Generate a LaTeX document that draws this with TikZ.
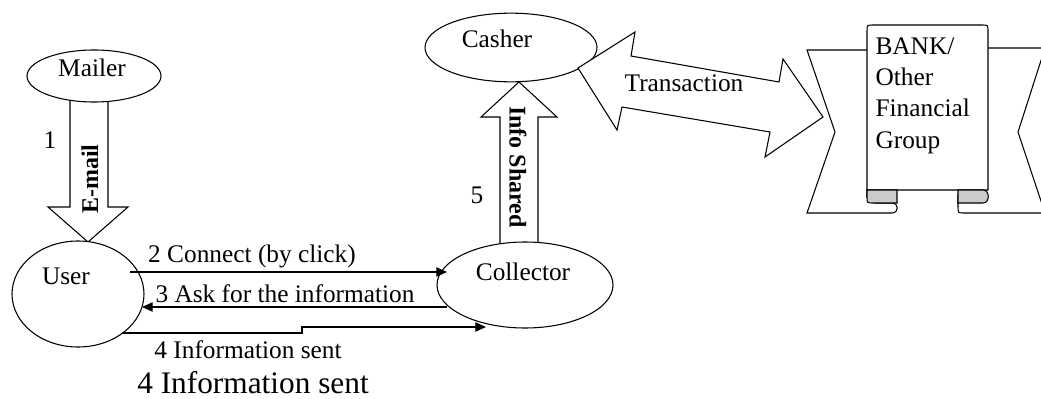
\documentclass[tikz,border=0pt]{standalone}
\usepackage{fontspec}
\setmainfont{Liberation Serif}
\usetikzlibrary{shapes.geometric,arrows.meta}
\begin{document}
\begin{tikzpicture}[x=0.75pt,y=-0.75pt,line width=0.8pt,
  every node/.style={inner sep=0pt,font=\fontsize{19}{24}\selectfont},
  oval/.style={ellipse,draw,fill=white,inner sep=0pt},
  boldlbl/.style={font=\fontsize{18}{22}\selectfont\bfseries},
  biglbl/.style={font=\fontsize{23.5}{28}\selectfont},
  conn/.style={-{Triangle[length=8pt,width=7pt]},line width=0.8pt},
  blockarrow/.style={draw,fill=white,line width=0.8pt,line join=miter},
  ribbon/.style={draw,fill=white,line width=0.8pt,line join=miter},
  curl/.style={draw,fill=gray!40,line width=0.8pt}]
\useasboundingbox (0,0) rectangle (1041,399);
\clip (0,0) rectangle (1041,399);

% block arrows (drawn before the ovals so the ovals cover the shaft ends)
\draw[blockarrow] (70,95) -- (108,95) -- (108,207) -- (128,207) -- (88,242) -- (48,207) -- (70,207) -- cycle;
\draw[blockarrow] (500,250) -- (538,250) -- (538,117) -- (557,117) -- (519,82) -- (481,117) -- (500,117) -- cycle;

% ovals
\node[oval,minimum width=100.5pt,minimum height=39pt] (mailer) at (94,76) {};
\node[oval,minimum width=99pt,minimum height=79.5pt] (user) at (78,294) {};
\node[oval,minimum width=132pt,minimum height=64.5pt] (collector) at (525,285) {};
\node[oval,minimum width=129pt,minimum height=51.5pt] (casher) at (511,47.5) {};

% oval texts
\node[anchor=base] (mailert) at (92,77) {Mailer};
\node[anchor=base] (usert) at (66,284) {User};
\node[anchor=base] (collectort) at (523,280) {Collector};
\node[anchor=base] (cashert) at (497,48) {Casher};

% block arrow labels
\node[boldlbl,rotate=90] (email) at (90,179) {E-mail};
\node[anchor=base] (one) at (50,148) {1};
\node[boldlbl,rotate=-90] (infoshared) at (518,167) {Info Shared};
\node[anchor=base] (five) at (477,203) {5};

% transaction double block arrow
\draw[blockarrow] (578,68) -- (635,32) -- (631,56) -- (779,82) -- (783,59) -- (823,117)
  -- (765,157) -- (770,132) -- (622,107) -- (617,130) -- cycle;
\node[anchor=base] (transaction) at (684,92) {Transaction};

% bank ribbon
\draw[ribbon] (875,50) -- (807,50) -- (835,132) -- (807,213) -- (892,213)
  .. controls (899,213) and (899,203) .. (892,203) -- (875,203);
\draw[ribbon] (980,48) -- (1045,48) -- (1018,132) -- (1045,213) -- (964,213)
  .. controls (958,213) .. (958,207) -- (958,195) -- (980,195);
\draw[ribbon] (867,198) -- (867,31) .. controls (867,25) .. (873,25) -- (982,25)
  .. controls (988,25) .. (988,31) -- (988,190) -- (867,190);
\draw[curl] (867,190) -- (897,190) -- (897,203) -- (873,203) .. controls (867,203) .. (867,197) -- cycle;
\draw[curl] (958,190) -- (983,190) .. controls (990,190) and (990,203) .. (983,203) -- (958,203) -- cycle;
\node[anchor=base west] (bank1) at (875,55) {BANK/};
\node[anchor=base west] (bank2) at (875,86) {Other};
\node[anchor=base west] (bank3) at (875,117) {Financial};
\node[anchor=base west] (bank4) at (875,148) {Group};

% connectors
\coordinate (c2s) at (130,272);
\coordinate (c2e) at (447,272);
\coordinate (c3s) at (447,307);
\coordinate (c3e) at (142,307);
\coordinate (c4s) at (122,333);
\coordinate (c4e) at (486,327);
\draw[conn] (c2s) -- (c2e);
\draw[conn] (c3s) -- (c3e);
\draw[conn] (c4s) -- (302,333) -- (302,327) -- (c4e);

\node[anchor=base] (l2) at (252,262) {2 Connect (by click)};
\node[anchor=base] (l3) at (285,302) {3 Ask for the information};
\node[anchor=base] (l4) at (248,358) {4 Information sent};
\node[biglbl,anchor=base] (l4big) at (253,393) {4 Information sent};
\end{tikzpicture}
\end{document}
